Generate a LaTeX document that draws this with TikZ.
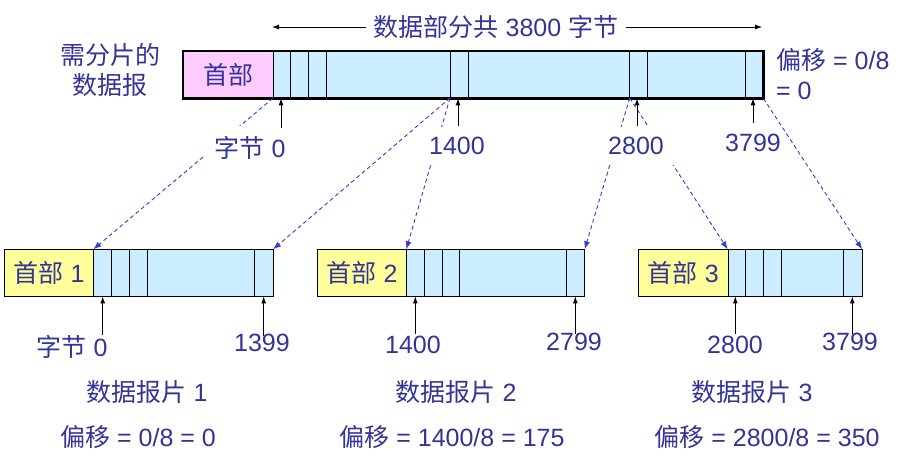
\documentclass[tikz,border=0pt]{standalone}
\usepackage{fontspec}
\setmainfont{Liberation Sans}
\newfontfamily\cjk{Noto Sans CJK SC}
\usetikzlibrary{arrows.meta}
\definecolor{txt}{HTML}{333399}
\definecolor{dashc}{HTML}{3A3AD0}
\definecolor{hpink}{HTML}{FFCCFF}
\definecolor{cblue}{HTML}{CCECFF}
\definecolor{hyellow}{HTML}{FFFF99}
\tikzset{
  lbl/.style={text=txt, font=\fontsize{25}{30}\selectfont, inner sep=0pt},
  wlbl/.style={lbl, fill=white, inner sep=10pt},
  upar/.style={-{Latex[length=7pt,width=5pt]}, line width=0.9pt, black},
  dasharr/.style={draw=dashc, dash pattern=on 4pt off 3pt, line width=0.9pt,
     -{Latex[length=8pt,width=6pt]}},
  hdrbox/.style={anchor=north west, inner sep=0pt, minimum height=#1, text=txt,
     font=\fontsize{25}{30}\selectfont},
  databox/.style={anchor=north west, inner sep=0pt, minimum height=#1, fill=cblue},
  divline/.style={line width=0.9pt, black},
}
\begin{document}
\begin{tikzpicture}[x=1pt, y=-1pt]
\useasboundingbox (0,0) rectangle (904,459);

% ---------- original datagram ----------
\node[hdrbox=47pt, fill=hpink, minimum width=89.7pt] (h0) at (183,51) {\cjk 首部};
\node[databox=47pt, minimum width=490.3pt] (d0) at (272.7,51) {};
\foreach \x in {290.7,308.7,326.3,450,468.3,629.7,647.7,745.7}
  \draw[divline] (\x,51) -- (\x,98);
\draw[divline] (h0.north east) -- (h0.south east);
\draw[line width=2.2pt] (h0.north west) rectangle (d0.south east);
\coordinate (c1400) at (450,98);
\coordinate (c2800) at (629.7,98);

% title with arrows
\node[lbl, inner xsep=8pt] (ttl) at (496,27) {{\cjk 数据部分共} 3800 {\cjk 字节}};
\coordinate (tl) at (272,27);
\coordinate (tr) at (762,27);
\draw[upar, line width=0.8pt] (ttl.west) -- (tl);
\draw[upar, line width=0.8pt] (ttl.east) -- (tr);

% side labels
\node[lbl, align=center] (lft) at (110,70) {\cjk 需分片的\\\cjk 数据报};
\node[lbl, align=left, anchor=west] (rgt) at (776,74) {{\cjk 偏移} = 0/8\\= 0};

% ---------- fragments ----------
% fragment 1
\node[hdrbox=46.7pt, fill=hyellow, minimum width=89pt] (h1) at (4.3,249.3) {{\cjk 首部} 1};
\node[databox=46.7pt, minimum width=179.4pt] (d1) at (93.3,249.3) {};
\foreach \x in {111.3,129.3,147.3,254.7}
  \draw[divline] (\x,249.3) -- (\x,296);
\draw[divline] (h1.north east) -- (h1.south east);
\draw[line width=1.2pt] (h1.north west) rectangle (d1.south east);

% fragment 2
\node[hdrbox=46.7pt, fill=hyellow, minimum width=89pt] (h2) at (317.3,249.3) {{\cjk 首部} 2};
\node[databox=46.7pt, minimum width=178pt] (d2) at (406.3,249.3) {};
\foreach \x in {424.3,442,459.3,566.3}
  \draw[divline] (\x,249.3) -- (\x,296);
\draw[divline] (h2.north east) -- (h2.south east);
\draw[line width=1.2pt] (h2.north west) rectangle (d2.south east);

% fragment 3
\node[hdrbox=46.7pt, fill=hyellow, minimum width=89pt] (h3) at (638.7,249.3) {{\cjk 首部} 3};
\node[databox=46.7pt, minimum width=134pt] (d3) at (727.7,249.3) {};
\foreach \x in {745.7,763.3,781.3,843.7}
  \draw[divline] (\x,249.3) -- (\x,296);
\draw[divline] (h3.north east) -- (h3.south east);
\draw[line width=1.2pt] (h3.north west) rectangle (d3.south east);

% ---------- dashed mapping arrows ----------
\draw[dasharr] (d0.south west) -- (d1.north west);
\draw[dasharr] (c1400) -- (d1.north east);
\draw[dasharr] (c1400) -- (d2.north west);
\draw[dasharr] (c2800) -- (d2.north east);
\draw[dasharr] (c2800) -- (d3.north west);
\draw[dasharr] (d0.south east) -- (d3.north east);

% ---------- top labels ----------
\node[wlbl] (t0) at (250,148) {{\cjk 字节} 0};
\node[wlbl] (t1) at (457,146) {1400};
\node[wlbl] (t2) at (636,146) {2800};
\node[lbl] (t3) at (753,143) {3799};

\coordinate (u0) at (281,128);
\coordinate (u1) at (458,126);
\coordinate (u2) at (637,126);
\coordinate (u3) at (753,123);
\foreach \u in {u0,u1,u2,u3}
  \draw[upar] (\u) -- (\u |- d0.south);

% ---------- bottom labels ----------
\node[lbl] (b10) at (72,347) {{\cjk 字节} 0};
\node[lbl] (b11) at (262,343) {1399};
\node[lbl] (b20) at (413,345) {1400};
\node[lbl] (b21) at (574,342) {2799};
\node[lbl] (b30) at (735,345) {2800};
\node[lbl] (b31) at (850,342) {3799};

\coordinate (v10) at (102.7,335);
\coordinate (v11) at (263.7,336);
\coordinate (v20) at (415.3,334);
\coordinate (v21) at (575.3,334);
\coordinate (v30) at (735.3,334);
\coordinate (v31) at (852.3,334);
\foreach \v/\d in {v10/d1,v11/d1,v20/d2,v21/d2,v30/d3,v31/d3}
  \draw[upar] (\v) -- (\v |- \d.south);

\node[lbl] (n1) at (147,392) {{\cjk 数据报片} 1};
\node[lbl] (n2) at (456,392) {{\cjk 数据报片} 2};
\node[lbl] (n3) at (752,392) {{\cjk 数据报片} 3};
\node[lbl] (o1) at (138,437) {{\cjk 偏移} = 0/8 = 0};
\node[lbl] (o2) at (452,437) {{\cjk 偏移} = 1400/8 = 175};
\node[lbl] (o3) at (767,437) {{\cjk 偏移} = 2800/8 = 350};
\end{tikzpicture}
\end{document}
